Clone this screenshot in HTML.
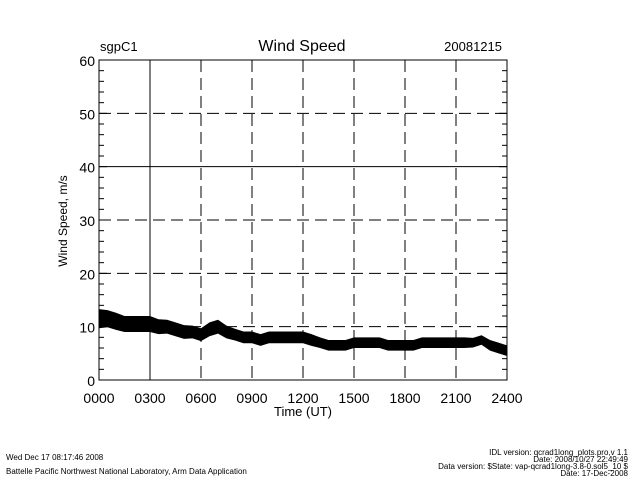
<!DOCTYPE html>
<html><head><meta charset="utf-8"><style>
body{margin:0;background:#fff;width:640px;height:480px;overflow:hidden}
svg{font-family:"Liberation Sans",sans-serif}
</style></head><body>
<svg id="c" width="640" height="480" xmlns="http://www.w3.org/2000/svg">
<text x="100" y="51" font-size="13">sgpC1</text>
<text x="302" y="51" font-size="16" text-anchor="middle">Wind Speed</text>
<text x="502" y="51" font-size="13" text-anchor="end">20081215</text>
<text x="303" y="416" font-size="13" text-anchor="middle">Time (UT)</text>
<text transform="translate(67,221) rotate(-90)" font-size="12" text-anchor="middle">Wind Speed, m/s</text>
<g font-size="8">
<text x="6" y="460">Wed Dec 17 08:17:46 2008</text>
<text x="6" y="474">Battelle Pacific Northwest National Laboratory, Arm Data Application</text>
<text x="628" y="455" text-anchor="end">IDL version: qcrad1long_plots.pro,v 1.1</text>
<text x="628" y="462" text-anchor="end">Date: 2008/10/27 22:49:49</text>
<text x="628" y="469" text-anchor="end">Data version: $State: vap-qcrad1long-3.8-0.sol5_10 $</text>
<text x="628" y="476" text-anchor="end">Date: 17-Dec-2008</text>
</g>
<g id="plot"></g>
</svg>
<script>
const hours=[0,0.5,1,1.5,2,2.5,3,3.5,4,4.5,5,5.5,6,6.5,7,7.5,8,8.5,9,9.5,10,10.5,11,11.5,12,12.5,13,13.5,14,14.5,15,15.5,16,16.5,17,17.5,18,18.5,19,19.5,20,20.5,21,21.5,22,22.5,23,23.5,24];
const speedMean=[11.5,11.5,11,10.5,10.5,10.5,10.5,10,10,9.5,9,9,8.5,9.5,10,9,8.5,8,8,7.5,8,8,8,8,8,7.5,7,6.5,6.5,6.5,7,7,7,7,6.5,6.5,6.5,6.5,7,7,7,7,7,7,7,7.5,6.5,6,5.5];
const speedSpread=[1.8,1.6,1.6,1.5,1.5,1.5,1.5,1.4,1.3,1.3,1.3,1.2,1.2,1.3,1.3,1.2,1.1,1.1,1.1,1.1,1.1,1.1,1.1,1.1,1.1,1.1,1,1,1,1,1,1,1,1,1,1,1,1,1,1,1,1,1,1,0.9,0.9,1,1,1];
const yTicks=[0,10,20,30,40,50,60];
const xTickLabels=["0000","0300","0600","0900","1200","1500","1800","2100","2400"];
const X0=99,X1=507,Y0=380,Y1=60;
const xs=h=>X0+(X1-X0)*h/24;
const ys=v=>Y0-(Y0-Y1)*v/60;
const NS="http://www.w3.org/2000/svg";
const plotG=document.getElementById('plot');
function mk(t,a){const e=document.createElementNS(NS,t);for(const k in a)e.setAttribute(k,a[k]);plotG.appendChild(e);return e;}
yTicks.forEach(v=>{if(v===0||v===60)return;
 const l=mk('line',{x1:X0,x2:X1,y1:ys(v),y2:ys(v),stroke:'#000','stroke-width':1,'stroke-dasharray':v===40?'none':'12,6'});
 
 });
xTickLabels.forEach((lab,i)=>{const h=i*3;
 if(i>0&&i<8){const l=mk('line',{x1:xs(h),x2:xs(h),y1:Y1,y2:Y0,stroke:'#000','stroke-width':1,'stroke-dasharray':i===1?'none':'12,6'});
 
 }
 const t=mk('text',{x:xs(h),y:Y0+23,'font-size':14,'text-anchor':'middle'});t.textContent=lab;
 
 });
for(let v=0;v<=60;v+=2){const len=v%10===0?8:5;
 mk('line',{x1:X0,x2:X0+len,y1:ys(v),y2:ys(v),stroke:'#000'});
 mk('line',{x1:X1-len,x2:X1,y1:ys(v),y2:ys(v),stroke:'#000'});}
yTicks.forEach(v=>{const t=mk('text',{x:X0-4,y:ys(v)+6,'font-size':14,'text-anchor':'end'});t.textContent=v;
 
 });
const bandTop=hours.map((h,i)=>xs(h)+','+ys(speedMean[i]+speedSpread[i]));
const bandBot=hours.map((h,i)=>xs(h)+','+ys(speedMean[i]-speedSpread[i])).reverse();
const band=mk('polygon',{points:bandTop.concat(bandBot).join(' '),fill:'#000'});


const fr=mk('rect',{x:X0,y:Y1,width:X1-X0,height:Y0-Y1,fill:'none',stroke:'#000','stroke-width':1});


</script>
</body></html>
